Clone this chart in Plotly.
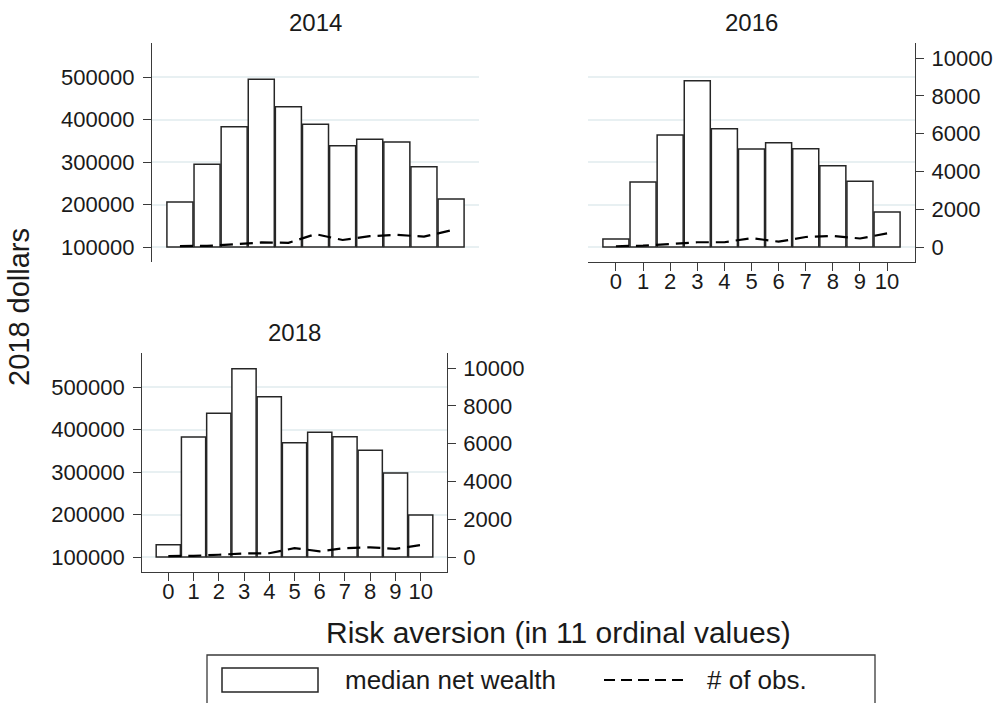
import plotly.graph_objects as go

# Risk aversion score (0 = least averse ... 10 = most averse)
risk_levels = list(range(11))
tick_labels = [str(v) for v in risk_levels]

# Median net wealth (2018 dollars) by risk aversion level
wealth_2014 = [205900, 294500, 383100, 494500, 430200, 388600, 338400, 353300, 347100, 289000, 212900]
wealth_2016 = [118800, 252900, 363500, 491400, 378400, 330600, 345500, 331400, 291400, 254500, 182400]
wealth_2018 = [129000, 382400, 438000, 543100, 477300, 369000, 393300, 383100, 351000, 297600, 198800]

# Number of observations by risk aversion level
obs_2014 = [50, 60, 140, 240, 220, 680, 370, 570, 640, 550, 880]
obs_2016 = [40, 70, 160, 250, 250, 470, 280, 530, 580, 450, 720]
obs_2018 = [50, 60, 120, 190, 200, 470, 300, 470, 510, 430, 630]

wealth_ticks = [100000, 200000, 300000, 400000, 500000]
obs_ticks = [0, 2000, 4000, 6000, 8000, 10000]
BAR_BASE = 100000

W, H = 997, 703
FONT = "Liberation Sans, Arial, Helvetica, sans-serif"
INK = "#1a1a1a"
AXIS = "#3a3a3a"
GRID = "#e8f0f2"


def px_x(x):
    return x / W


def px_y(y):
    return 1 - y / H


panels = [
    # year, wealth, obs, x-domain px, y-domain px, show left, show right, show x
    ("2014", wealth_2014, obs_2014, (152, 479), (43.3, 261.7), True, False, False),
    ("2016", wealth_2016, obs_2016, (588, 915), (43.3, 261.7), False, True, True),
    ("2018", wealth_2018, obs_2018, (142.3, 446.7), (353.3, 571.7), True, True, True),
]

fig = go.Figure()
layout = {}
annotations = []

for i, (year, wealth, obs, (xl, xr), (yt, yb), show_l, show_r, show_x) in enumerate(panels):
    xa = "x" if i == 0 else f"x{i + 1}"
    ya_w = f"y{2 * i + 1}" if i > 0 else "y"
    ya_o = f"y{2 * i + 2}"
    xa_key = "xaxis" if i == 0 else f"xaxis{i + 1}"
    yw_key = "yaxis" if i == 0 else f"yaxis{2 * i + 1}"
    yo_key = f"yaxis{2 * i + 2}"

    fig.add_trace(go.Bar(
        x=risk_levels,
        y=[v - BAR_BASE for v in wealth],
        base=BAR_BASE,
        width=0.96,
        marker=dict(color="white", line=dict(color="#262626", width=1.5)),
        xaxis=xa, yaxis=ya_w, showlegend=False,
        name="median net wealth",
    ))
    fig.add_trace(go.Scatter(
        x=risk_levels, y=obs, mode="lines",
        line=dict(color="black", width=2.2, dash="13px,7px"),
        xaxis=xa, yaxis=ya_o, showlegend=False,
        name="# of obs.",
    ))

    layout[xa_key] = dict(
        domain=[px_x(xl), px_x(xr)], anchor=ya_w,
        range=[-1.03, 11.03], tickvals=risk_levels, ticktext=tick_labels,
        showline=show_x, linecolor=AXIS, linewidth=1.3,
        ticks="outside" if show_x else "", ticklen=8, tickwidth=1.3, tickcolor=AXIS,
        showticklabels=show_x, showgrid=False, zeroline=False,
        tickfont=dict(family=FONT, size=22, color=INK),
        ticklabelstandoff=-8,
    )
    layout[yw_key] = dict(
        domain=[px_y(yb), px_y(yt)], anchor=xa,
        range=[65400, 579300], tickvals=wealth_ticks,
        ticktext=[str(v) for v in wealth_ticks],
        showline=show_l, linecolor=AXIS, linewidth=1.3,
        ticks="outside" if show_l else "", ticklen=8, tickwidth=1.3, tickcolor=AXIS,
        showticklabels=show_l, showgrid=True, gridcolor=GRID, gridwidth=1.5,
        zeroline=False, tickfont=dict(family=FONT, size=22, color=INK),
        ticklabelstandoff=4,
    )
    layout[yo_key] = dict(
        overlaying=ya_w, side="right", anchor=xa,
        range=[-778, 10778], tickvals=obs_ticks,
        ticktext=[str(v) for v in obs_ticks],
        showline=show_r, linecolor=AXIS, linewidth=1.3,
        ticks="outside" if show_r else "", ticklen=8, tickwidth=1.3, tickcolor=AXIS,
        showticklabels=show_r, showgrid=False, zeroline=False,
        tickfont=dict(family=FONT, size=22, color=INK),
        ticklabelstandoff=3,
    )

    annotations.append(dict(
        text=year, x=px_x((xl + xr) / 2), y=px_y(yt - 21),
        xref="paper", yref="paper", showarrow=False,
        xanchor="center", yanchor="middle",
        font=dict(family=FONT, size=24, color=INK),
    ))

# Shared axis titles
annotations.append(dict(
    text="2018 dollars", x=px_x(19), y=px_y(307), xref="paper", yref="paper",
    showarrow=False, textangle=-90, xanchor="center", yanchor="middle",
    font=dict(family=FONT, size=29, color=INK),
))
annotations.append(dict(
    text="Risk aversion (in 11 ordinal values)", x=px_x(558), y=px_y(632),
    xref="paper", yref="paper", showarrow=False, xanchor="center", yanchor="middle",
    font=dict(family=FONT, size=30, color=INK),
))

# Legend drawn as a framed key below the panels
legend_y = 680
annotations.append(dict(
    text="median net wealth", x=px_x(343), y=px_y(legend_y), xref="paper", yref="paper",
    showarrow=False, xanchor="left", yanchor="middle",
    font=dict(family=FONT, size=26, color=INK),
))
annotations.append(dict(
    text="# of obs.", x=px_x(705), y=px_y(legend_y), xref="paper", yref="paper",
    showarrow=False, xanchor="left", yanchor="middle",
    font=dict(family=FONT, size=26, color=INK),
))

shapes = [
    dict(type="rect", xref="paper", yref="paper",
         x0=px_x(207), x1=px_x(875), y0=px_y(720), y1=px_y(655),
         line=dict(color=AXIS, width=1.3), fillcolor="white", layer="below"),
    dict(type="rect", xref="paper", yref="paper",
         x0=px_x(222), x1=px_x(318), y0=px_y(692), y1=px_y(668),
         line=dict(color="#262626", width=1.5), fillcolor="white"),
    dict(type="line", xref="paper", yref="paper",
         x0=px_x(604), x1=px_x(686), y0=px_y(legend_y), y1=px_y(legend_y),
         line=dict(color="black", width=2, dash="11px,6px")),
]

fig.update_layout(
    width=W, height=H,
    margin=dict(l=0, r=0, t=0, b=0),
    paper_bgcolor="white", plot_bgcolor="white",
    barmode="overlay", showlegend=False,
    annotations=annotations, shapes=shapes,
    **layout,
)

fig.write_html("out.html")
